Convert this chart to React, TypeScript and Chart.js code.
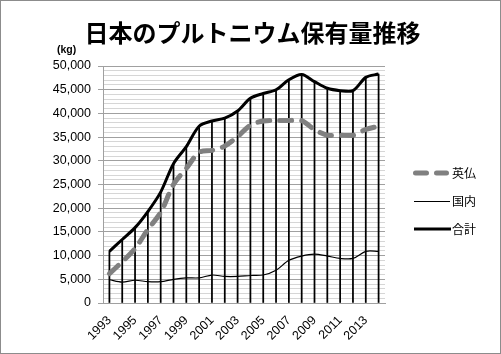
import React, { useEffect, useRef } from "react";
import { Chart, registerables } from "chart.js";

Chart.register(...registerables);

const years = [
  "1993", "1994", "1995", "1996", "1997", "1998", "1999", "2000", "2001", "2002", "2003",
  "2004", "2005", "2006", "2007", "2008", "2009", "2010", "2011", "2012", "2013", "2014",
];

// 英仏 (UK / France)
const ukFrance = [
  6200, 8700, 11500, 15500, 19100, 25000, 28400, 31800, 32200, 33100, 35100,
  37500, 38400, 38500, 38500, 38500, 36600, 35400, 35400, 35400, 36600, 37300,
];

// 国内 (domestic)
const domestic = [
  4900, 4400, 4800, 4500, 4500, 5000, 5300, 5300, 5900, 5600, 5600,
  5800, 5900, 6900, 9000, 9900, 10300, 9900, 9400, 9400, 10900, 10900,
];

// 合計 (total)
const total = [
  10900, 13400, 15900, 19300, 23400, 29400, 33000, 37300, 38400, 39000, 40500,
  43200, 44200, 45000, 47100, 48200, 46700, 45300, 44800, 44800, 47600, 48300,
];

const seriesNames = ["英仏", "国内", "合計"];
const titleText = "日本のプルトニウム保有量推移";
const unitText = "(kg)";
const yMax = 50000;
const yMajorStep = 5000;
const yMinorStep = 1000;

export default function App() {
  const ref = useRef<HTMLCanvasElement>(null);

  useEffect(() => {
    if (!ref.current) return;
    const tickFont = { family: "'Liberation Sans', Arial, sans-serif", size: 12.5 };
    const chart = new Chart(ref.current, {
      type: "bar",
      data: {
        labels: years,
        datasets: [
          {
            type: "bar",
            label: "drop",
            data: total,
            backgroundColor: "#000000",
            barThickness: 1.1,
            order: 10,
          } as any,
          {
            type: "line",
            label: seriesNames[0],
            data: ukFrance,
            borderColor: "#808080",
            borderWidth: 5,
            borderDash: [12, 10],
            borderCapStyle: "round",
            pointRadius: 0,
            tension: 0.3,
            order: 3,
          } as any,
          {
            type: "line",
            label: seriesNames[1],
            data: domestic,
            borderColor: "#000000",
            borderWidth: 1.2,
            pointRadius: 0,
            tension: 0.3,
            order: 2,
          } as any,
          {
            type: "line",
            label: seriesNames[2],
            data: total,
            borderColor: "#000000",
            borderWidth: 3,
            pointRadius: 0,
            tension: 0.3,
            order: 1,
          } as any,
        ],
      },
      options: {
        responsive: false,
        animation: false,
        layout: { padding: { left: 0, top: 66, right: 116, bottom: 0 } },
        plugins: {
          legend: { display: false },
          tooltip: { enabled: false },
          title: { display: false },
        },
        scales: {
          x: {
            type: "category",
            offset: true,
            grid: { display: false, drawTicks: false },
            border: { display: true, color: "#a0a0a0", width: 1 },
            ticks: {
              autoSkip: false,
              maxRotation: 45,
              minRotation: 45,
              padding: 10,
              color: "#000000",
              font: tickFont,
              callback: function (this: any, v: any, i: number) {
                return i % 2 === 0 ? years[i] : "";
              },
            },
            afterFit: (s: any) => {
              s.height = 51;
            },
          },
          y: {
            type: "linear",
            min: 0,
            max: yMax,
            grid: {
              color: (c: any) => (c.tick && c.tick.value % yMajorStep === 0 ? "#a0a0a0" : "#d6d6d6"),
              tickColor: (c: any) => (c.tick && c.tick.value % yMajorStep === 0 ? "#a0a0a0" : "rgba(0,0,0,0)"),
              tickLength: 5,
              lineWidth: 1,
            },
            border: { display: true, color: "#a0a0a0", width: 1 },
            ticks: {
              stepSize: yMinorStep,
              maxTicksLimit: 100,
              autoSkip: false,
              padding: 7,
              color: "#000000",
              font: tickFont,
              callback: (v: any) => (Number(v) % yMajorStep === 0 ? Number(v).toLocaleString("en-US") : ""),
            },
            afterFit: (s: any) => {
              s.width = 103;
            },
          },
        },
      } as any,
    });
    return () => chart.destroy();
  }, []);

  const legendText: React.CSSProperties = {
    position: "absolute",
    left: 452,
    fontFamily: "'Noto Sans CJK JP', sans-serif",
    fontSize: 12,
    lineHeight: "12px",
    color: "#000",
    whiteSpace: "nowrap",
  };

  return (
    <div style={{ position: "absolute", left: 0, top: 0, width: 501, height: 354, background: "#fff" }}>
      <canvas ref={ref} width={501} height={354} style={{ position: "absolute", left: 0, top: 0 }} />
      <div
        style={{
          position: "absolute",
          left: 2,
          top: 20,
          width: 501,
          textAlign: "center",
          fontFamily: "'Noto Sans CJK JP', sans-serif",
          fontWeight: "bold",
          fontSize: 24,
          lineHeight: "24px",
          color: "#000",
          whiteSpace: "nowrap",
        }}
      >
        {titleText}
      </div>
      <div
        style={{
          position: "absolute",
          left: 57,
          top: 44,
          fontFamily: "'Liberation Sans', Arial, sans-serif",
          fontWeight: "bold",
          fontSize: 10.5,
          lineHeight: "11px",
          color: "#000",
        }}
      >
        {unitText}
      </div>
      <svg width={501} height={354} style={{ position: "absolute", left: 0, top: 0 }}>
        <line x1={415.5} y1={173} x2={446.5} y2={173} stroke="#808080" strokeWidth={5} strokeLinecap="round" strokeDasharray="11 10" />
        <line x1={414} y1={201.5} x2={450} y2={201.5} stroke="#000" strokeWidth={1} />
        <line x1={414} y1={229} x2={451} y2={229} stroke="#000" strokeWidth={3} />
      </svg>
      <div style={{ ...legendText, top: 166.5 }}>{seriesNames[0]}</div>
      <div style={{ ...legendText, top: 195 }}>{seriesNames[1]}</div>
      <div style={{ ...legendText, top: 222.5 }}>{seriesNames[2]}</div>
      <div
        style={{
          position: "absolute",
          left: 0,
          top: 0,
          width: 501,
          height: 354,
          boxSizing: "border-box",
          border: "1px solid #8c8c8c",
          pointerEvents: "none",
        }}
      />
    </div>
  );
}
